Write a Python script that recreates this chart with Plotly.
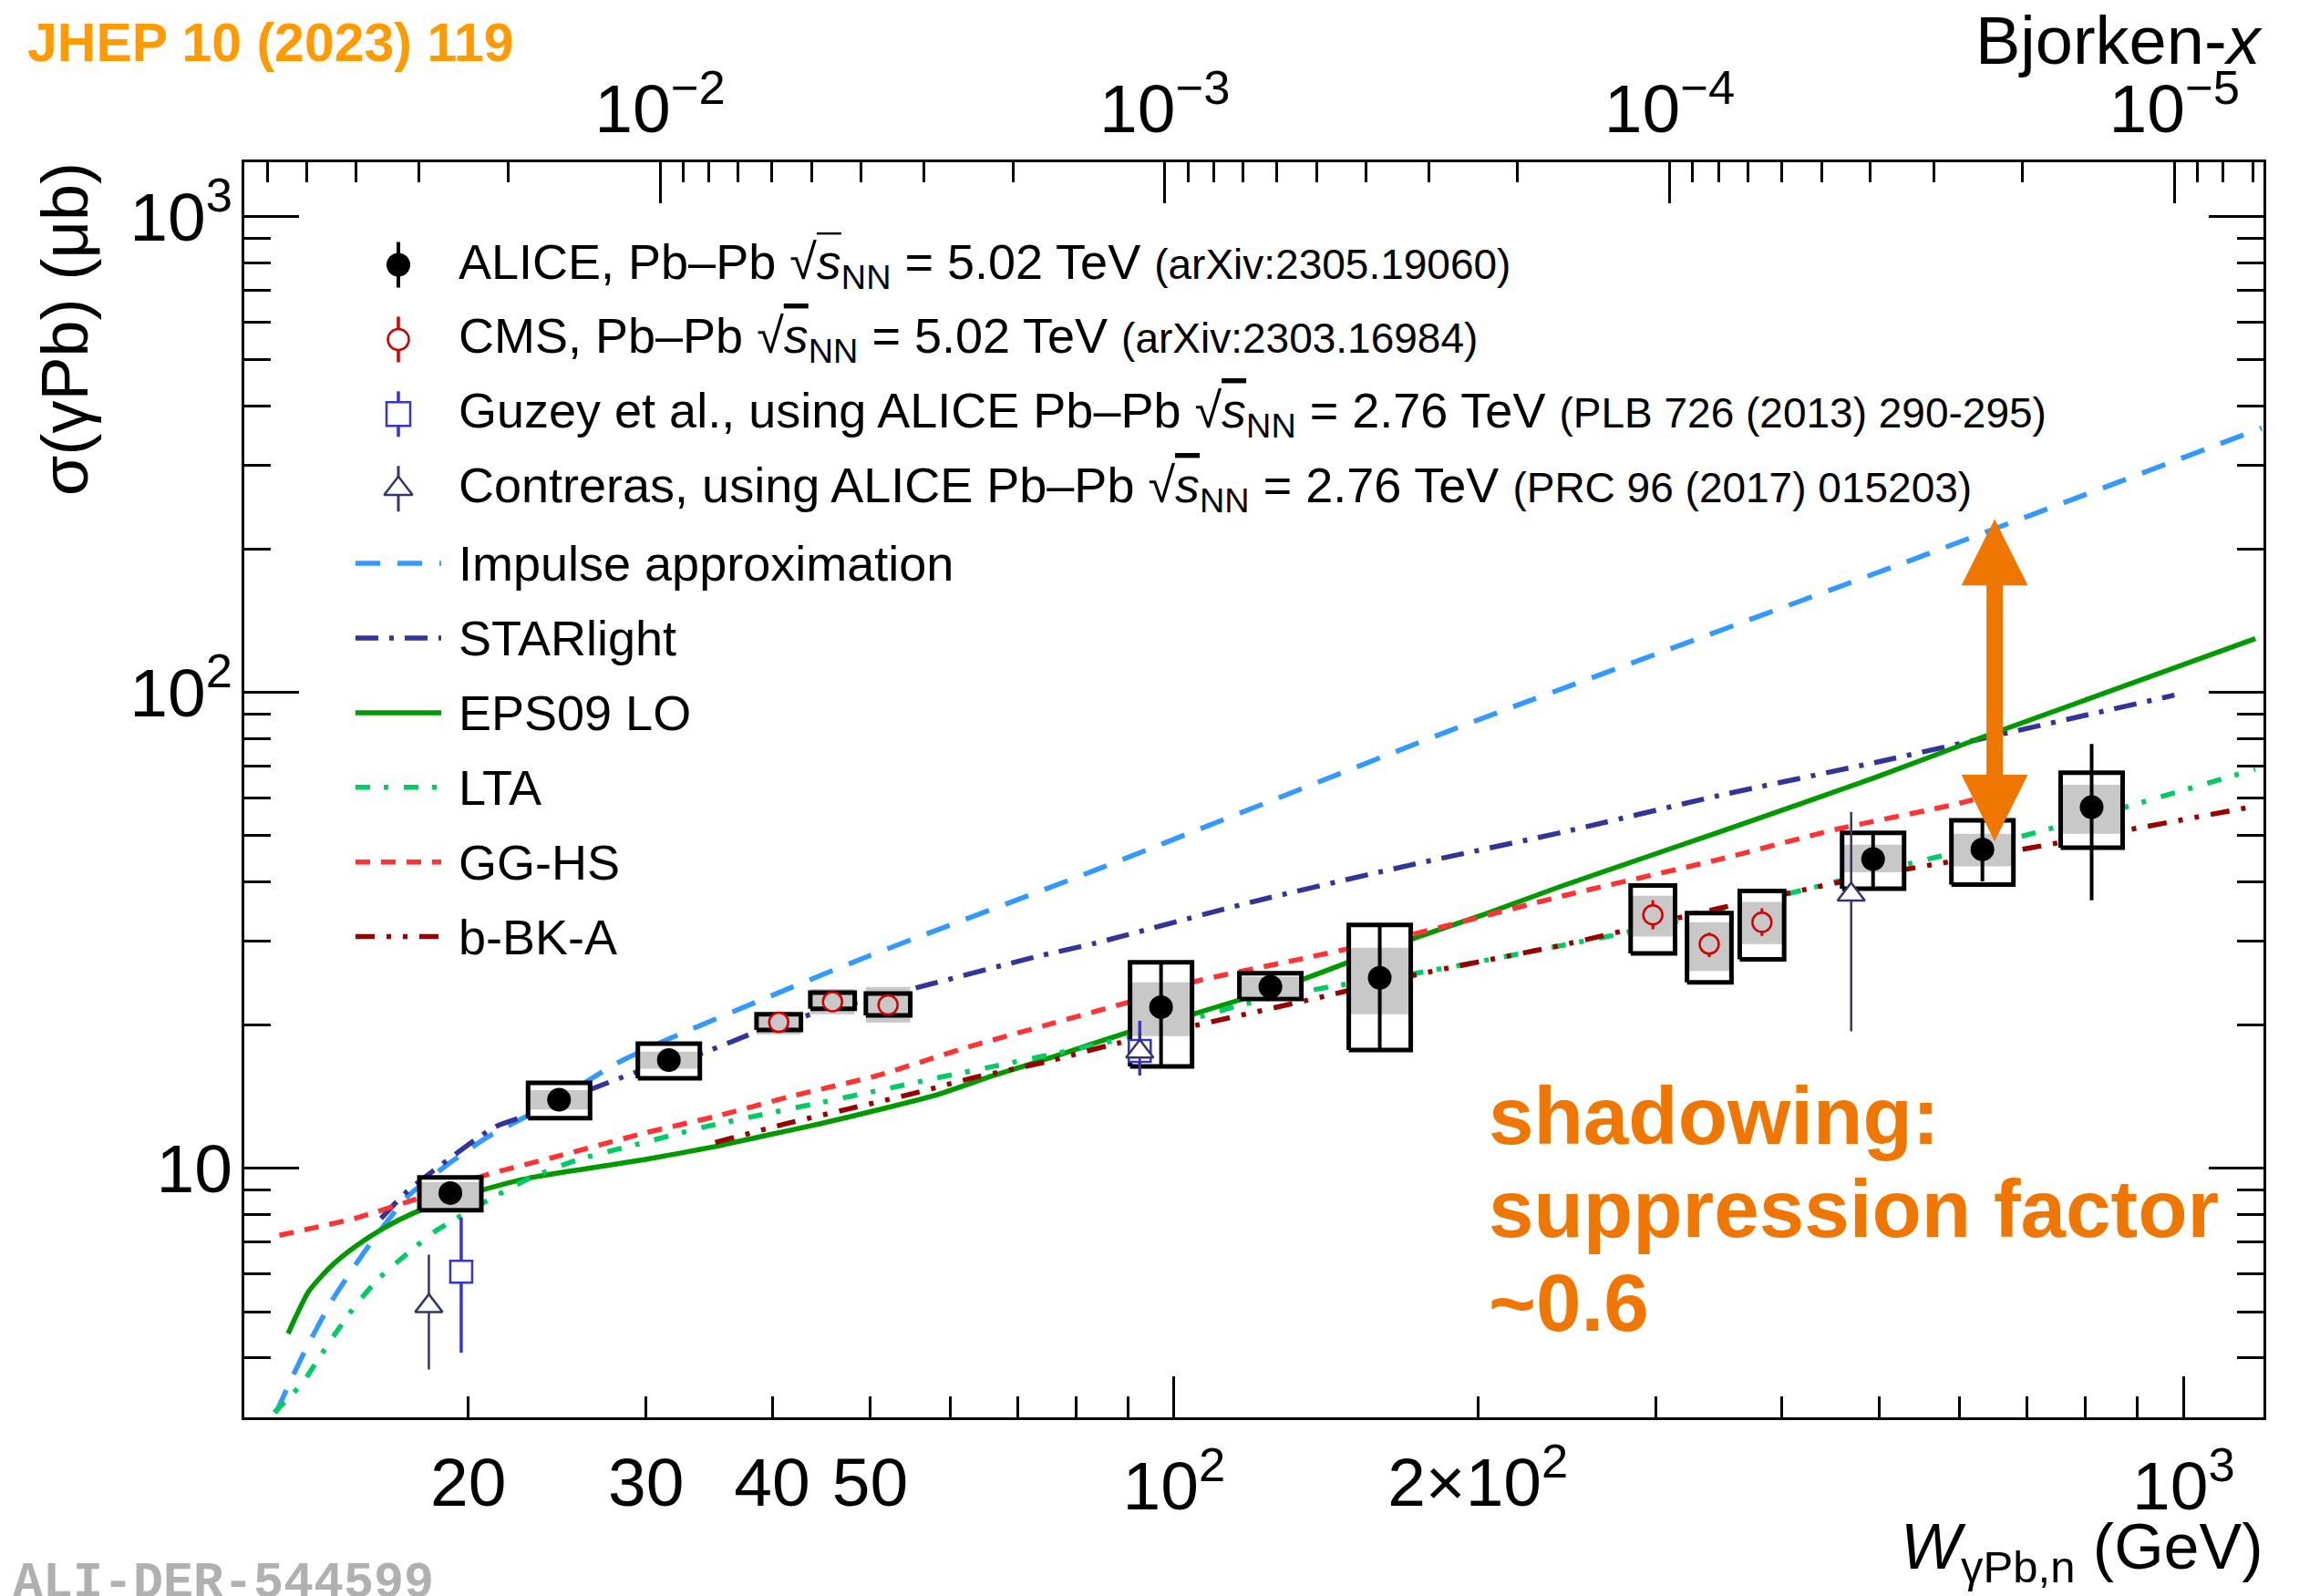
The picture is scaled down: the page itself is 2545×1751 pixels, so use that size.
import math
import plotly.graph_objects as go

# ------------------------------------------------------------------
# Coherent J/psi photoproduction off Pb: sigma(gamma Pb) vs W_gammaPb,n
# ------------------------------------------------------------------

# ALICE, Pb-Pb 5.02 TeV: W (GeV), sigma (ub); stat. bars, open boxes, shaded bands
alice_w = [19.2, 24.6, 31.6, 97.1, 124.6, 159.9, 492.6, 632.1, 810.9]
alice_sigma = [8.88, 13.94, 16.9, 21.83, 24.09, 25.15, 44.67, 46.8, 57.4]
alice_stat_lo = [8.75, 13.75, 16.65, 16.4, 23.0, 17.75, 38.8, 40.1, 36.6]
alice_stat_hi = [9.05, 14.15, 17.15, 27.1, 25.3, 32.5, 50.6, 53.9, 77.9]
alice_box_lo = [8.17, 12.76, 15.47, 16.39, 22.7, 17.74, 38.7, 39.5, 47.2]
alice_box_hi = [9.58, 15.14, 18.3, 27.1, 25.7, 32.5, 50.7, 53.9, 67.8]
alice_band_lo = [8.27, 13.3, 16.2, 18.96, 23.0, 21.08, 41.9, 43.1, 50.5]
alice_band_hi = [9.37, 14.6, 17.6, 24.6, 25.3, 29.08, 47.9, 50.5, 64.0]

# CMS, Pb-Pb 5.02 TeV
cms_w = [40.6, 45.9, 52.1, 298.1, 339.0, 382.3]
cms_sigma = [20.28, 22.41, 22.05, 34.1, 29.6, 32.9]
cms_stat_lo = [20.0, 22.1, 21.7, 31.8, 27.8, 30.8]
cms_stat_hi = [20.6, 22.7, 22.4, 36.6, 31.3, 35.2]
cms_box_lo = [19.55, 21.64, 20.98, 28.3, 24.6, 27.5]
cms_box_hi = [21.08, 23.42, 23.3, 39.3, 34.4, 38.3]
cms_band_lo = [19.12, 21.08, 20.26, 30.7, 26.0, 29.6]
cms_band_hi = [21.27, 23.84, 24.06, 37.4, 32.9, 36.3]

# Guzey et al. (ALICE Pb-Pb 2.76 TeV)
guzey_w = [19.68, 92.5]
guzey_sigma = [6.07, 17.66]
guzey_lo = [4.10, 15.68]
guzey_hi = [7.88, 20.43]

# Contreras (ALICE Pb-Pb 2.76 TeV)
contreras_w = [18.28, 92.5, 468.6]
contreras_sigma = [5.14, 17.6, 37.6]
contreras_lo = [3.78, 16.2, 19.41]
contreras_hi = [6.59, 19.3, 56.1]

# Model curves
ia_w = [12.9, 13.71, 14.65, 15.86, 17.41, 19.11, 20.94, 24.22, 28.04, 31.59,
        39.04, 49.56, 83.47, 189.4, 531.9, 1195]
ia_sigma = [3.07, 4.05, 5.27, 6.78, 8.72, 10.22, 11.67, 13.74, 16.61, 18.71,
            22.61, 27.81, 42.3, 83.8, 188.2, 359.4]

starlight_w = [16.39, 17.41, 21.23, 22.99, 26.24, 29.93, 34.19, 39.04, 44.6, 54.3,
               72.8, 83.5, 119.2, 170.2, 243.0, 346.8, 495.3, 646.6, 979.5]
starlight_sigma = [7.85, 8.96, 12.21, 12.97, 14.57, 16.18, 17.51, 19.55, 21.35, 23.66,
                   27.81, 29.73, 36.26, 43.25, 50.9, 60.75, 71.3, 80.9, 98.7]

eps09_w = [13.26, 13.9, 14.65, 15.45, 16.51, 17.63, 19.23, 20.68, 22.99, 26.24,
           29.96, 35.13, 39.04, 44.57, 50.87, 58.04, 66.3, 75.7, 89.9, 105.2,
           132.6, 164.3, 203.3, 243.0, 346.8, 495.3, 635.7, 1178]
eps09_sigma = [4.50, 5.52, 6.25, 6.85, 7.50, 8.05, 8.62, 9.02, 9.55, 10.0,
               10.45, 11.12, 11.68, 12.41, 13.27, 14.25, 15.68, 17.13, 19.29, 21.2,
               24.74, 29.34, 34.23, 39.31, 50.9, 66.3, 80.9, 129.8]

lta_w = [12.85, 13.71, 14.56, 15.45, 16.29, 17.63, 18.6, 20.68, 22.99, 25.56,
         29.96, 34.19, 39.04, 44.57, 50.87, 58.04, 66.3, 80.9, 91.1, 119.2,
         142.3, 176.3, 290.1, 386.2, 495.3, 707.1, 1178]
lta_sigma = [3.07, 3.55, 4.31, 5.14, 5.86, 6.78, 7.41, 8.46, 9.53, 10.4,
             11.36, 12.21, 12.97, 13.74, 14.57, 15.47, 16.39, 17.9, 18.98, 22.32,
             24.06, 25.85, 31.77, 36.79, 42.0, 50.5, 69.0]

gghs_w = [13.0, 15.45, 17.63, 20.68, 24.24, 29.96, 35.13, 41.72, 50.87, 62.0,
          75.7, 89.9, 105.2, 132.6, 170.2, 243.0, 346.8, 453.2, 591.4, 646.0]
gghs_sigma = [7.24, 7.86, 8.58, 9.65, 10.54, 11.88, 12.86, 14.17, 15.68, 17.9,
              20.16, 22.32, 24.74, 27.46, 30.84, 37.4, 44.6, 51.6, 58.1, 61.0]

bbka_w = [35.13, 41.16, 47.6, 55.08, 63.72, 74.7, 86.4, 105.2, 135.0, 176.3,
          243.0, 346.8, 495.3, 707.1, 1178]
bbka_sigma = [11.34, 12.4, 13.34, 14.36, 15.56, 16.75, 18.16, 19.99, 22.52, 25.7,
              29.51, 35.2, 41.4, 47.2, 57.7]

# Axis ticks and labels
w_major_ticks = [100, 1000]
w_major_labels = ["10<sup>2</sup>", "10<sup>3</sup>"]
w_labelled_minor = [20, 30, 40, 50, 200]
w_labelled_minor_text = ["20", "30", "40", "50", "2×10<sup>2</sup>"]
w_minor_ticks = [20, 30, 40, 50, 60, 70, 80, 90, 200, 300, 400, 500, 600, 700, 800, 900]
sigma_major_ticks = [10, 100, 1000]
sigma_major_labels = ["10", "10<sup>2</sup>", "10<sup>3</sup>"]
sigma_minor_ticks = [4, 5, 6, 7, 8, 9, 20, 30, 40, 50, 60, 70, 80, 90,
                     200, 300, 400, 500, 600, 700, 800, 900]
xb_major_ticks = [1e-2, 1e-3, 1e-4, 1e-5]
xb_major_labels = ["10<sup>−2</sup>", "10<sup>−3</sup>", "10<sup>−4</sup>", "10<sup>−5</sup>"]
xb_minor_ticks = [m * 10.0 ** e for e in (-2, -3, -4, -5, -6) for m in range(2, 10)]

# ------------------------------------------------------------------
# Geometry and style
# ------------------------------------------------------------------
PAGE_W, PAGE_H = 2545, 1751
FRAME_L, FRAME_R, FRAME_T, FRAME_B = 268, 2483, 178, 1555
W_MIN, W_MAX = 12.0, 1200.0
S_MIN, S_MAX = 3.0, 1300.0
MJPSI2 = 3.0969 ** 2          # x = M_J/psi^2 / W^2

FONT = "Liberation Sans, Arial, Helvetica, sans-serif"
TICK_FONT = 75
CURVE_W = 5.5

C_ALICE = "black"
C_CMS = "#d40000"
C_GUZEY = "#3535d5"
C_CONTRERAS = "#35356b"
C_IA = "#3399ff"
C_STARLIGHT = "#333399"
C_EPS09 = "#009900"
C_LTA = "#00cc66"
C_GGHS = "#ff3333"
C_BBKA = "#990000"
C_BAND = "#c8c8c8"
C_ORANGE = "#ef7600"
C_JHEP = "#ff9a00"

ALICE_BOX_HALF = 0.0307   # half width of the boxes in decades of W
CMS_BOX_HALF = 0.022

lg = math.log10


def paper_x(px):
    return (px - FRAME_L) / (FRAME_R - FRAME_L)


def paper_y(py):
    return (FRAME_B - py) / (FRAME_B - FRAME_T)


def box_outline(ws, lo, hi, half):
    f = 10 ** half
    xs, ys = [], []
    for w, l, h in zip(ws, lo, hi):
        xs += [w / f, w * f, w * f, w / f, w / f, None]
        ys += [l, l, h, h, l, None]
    return xs, ys


fig = go.Figure()

# Model curves
DASH_IA = "27px,19px"
DASH_STARLIGHT = "25px,12px,5px,12px"
DASH_LTA = "16px,15px,5px,17px"
DASH_GGHS = "16px,12px"
DASH_BBKA = "21px,13px,5px,13px,5px,13px"

curves = [
    (ia_w, ia_sigma, C_IA, DASH_IA),
    (starlight_w, starlight_sigma, C_STARLIGHT, DASH_STARLIGHT),
    (eps09_w, eps09_sigma, C_EPS09, "solid"),
    (lta_w, lta_sigma, C_LTA, DASH_LTA),
    (gghs_w, gghs_sigma, C_GGHS, DASH_GGHS),
    (bbka_w, bbka_sigma, C_BBKA, DASH_BBKA),
]
for w, s, color, dash in curves:
    fig.add_trace(go.Scatter(
        x=w, y=s, mode="lines",
        line=dict(color=color, dash=dash, width=CURVE_W, shape="spline", smoothing=0.6),
        hoverinfo="skip", showlegend=False))

# Uncertainty boxes: white body, grey band, black frame
for ws, blo, bhi, glo, ghi, half in [
    (alice_w, alice_box_lo, alice_box_hi, alice_band_lo, alice_band_hi, ALICE_BOX_HALF),
    (cms_w, cms_box_lo, cms_box_hi, cms_band_lo, cms_band_hi, CMS_BOX_HALF),
]:
    bx, by = box_outline(ws, blo, bhi, half)
    gx, gy = box_outline(ws, glo, ghi, half)
    fig.add_trace(go.Scatter(x=bx, y=by, mode="lines", fill="toself", fillcolor="white",
                             line=dict(width=0, color="white"), hoverinfo="skip", showlegend=False))
    fig.add_trace(go.Scatter(x=gx, y=gy, mode="lines", fill="toself", fillcolor=C_BAND,
                             line=dict(width=0, color=C_BAND), hoverinfo="skip", showlegend=False))
    fig.add_trace(go.Scatter(x=bx, y=by, mode="lines",
                             line=dict(width=5, color="black"), hoverinfo="skip", showlegend=False))


def err(center, lo, hi):
    return dict(type="data", symmetric=False,
                array=[h - c for c, h in zip(center, hi)],
                arrayminus=[c - l for c, l in zip(center, lo)])


fig.add_trace(go.Scatter(
    x=cms_w, y=cms_sigma, mode="markers",
    marker=dict(symbol="circle", size=21, color=C_BAND, line=dict(color=C_CMS, width=2.5)),
    error_y=dict(**err(cms_sigma, cms_stat_lo, cms_stat_hi), color=C_CMS, thickness=3, width=0),
    hoverinfo="skip", showlegend=False))

fig.add_trace(go.Scatter(
    x=alice_w, y=alice_sigma, mode="markers",
    marker=dict(symbol="circle", size=26, color=C_ALICE),
    error_y=dict(**err(alice_sigma, alice_stat_lo, alice_stat_hi), color=C_ALICE, thickness=4, width=0),
    hoverinfo="skip", showlegend=False))

fig.add_trace(go.Scatter(
    x=guzey_w, y=guzey_sigma, mode="markers",
    marker=dict(symbol="square", size=24, color="white", line=dict(color=C_GUZEY, width=2.5)),
    error_y=dict(**err(guzey_sigma, guzey_lo, guzey_hi), color=C_GUZEY, thickness=3.5, width=0),
    hoverinfo="skip", showlegend=False))

fig.add_trace(go.Scatter(
    x=contreras_w, y=contreras_sigma, mode="markers",
    marker=dict(symbol="triangle-up", size=26, color="white", line=dict(color=C_CONTRERAS, width=2.5)),
    error_y=dict(**err(contreras_sigma, contreras_lo, contreras_hi), color=C_CONTRERAS, thickness=2.5, width=0),
    hoverinfo="skip", showlegend=False))

# Placeholders so the Bjorken-x axis and the extra W label axis get drawn
fig.add_trace(go.Scatter(x=xb_major_ticks, y=[None] * len(xb_major_ticks), xaxis="x2", yaxis="y",
                         mode="markers", hoverinfo="skip", showlegend=False))
fig.add_trace(go.Scatter(x=w_labelled_minor, y=[None] * len(w_labelled_minor), xaxis="x4", yaxis="y",
                         mode="markers", hoverinfo="skip", showlegend=False))

# ------------------------------------------------------------------
# Legend, drawn on a pixel-scaled overlay
# ------------------------------------------------------------------
LEG_ROW0, LEG_STEP = 290.5, 81.9
LEG_MARK_X = 437
LEG_LINE_X = [390, 484]
LEG_TEXT_X = 503
LEG_BAR = 25
LEG_FONT = 54
REF_FONT = 46

SQRT_S = "√<span style='text-decoration:overline'><i>s</i></span><sub>NN</sub>"

legend_markers = [
    (dict(symbol="circle", size=26, color=C_ALICE), C_ALICE, 4,
     f"ALICE, Pb–Pb {SQRT_S} = 5.02 TeV <span style='font-size:{REF_FONT}px'>(arXiv:2305.19060)</span>"),
    (dict(symbol="circle", size=23, color="white", line=dict(color=C_CMS, width=2.5)), C_CMS, 3.5,
     f"CMS, Pb–Pb {SQRT_S} = 5.02 TeV <span style='font-size:{REF_FONT}px'>(arXiv:2303.16984)</span>"),
    (dict(symbol="square", size=26, color="white", line=dict(color=C_GUZEY, width=2.5)), C_GUZEY, 3.5,
     f"Guzey et al., using ALICE Pb–Pb {SQRT_S} = 2.76 TeV <span style='font-size:{REF_FONT}px'>(PLB 726 (2013) 290-295)</span>"),
    (dict(symbol="triangle-up", size=27, color="white", line=dict(color=C_CONTRERAS, width=2.5)), C_CONTRERAS, 3,
     f"Contreras, using ALICE Pb–Pb {SQRT_S} = 2.76 TeV <span style='font-size:{REF_FONT}px'>(PRC 96 (2017) 015203)</span>"),
]
legend_lines = [
    (C_IA, DASH_IA, "Impulse approximation"),
    (C_STARLIGHT, DASH_STARLIGHT, "STARlight"),
    (C_EPS09, "solid", "EPS09 LO"),
    (C_LTA, DASH_LTA, "LTA"),
    (C_GGHS, DASH_GGHS, "GG-HS"),
    (C_BBKA, DASH_BBKA, "b-BK-A"),
]

annotations = []


def text(s, px, py, size, xanchor="left", yanchor="middle", color="black", angle=0, family=FONT):
    annotations.append(dict(
        text=s, x=paper_x(px), y=paper_y(py), xref="paper", yref="paper",
        xanchor=xanchor, yanchor=yanchor, showarrow=False, textangle=angle,
        borderpad=0, borderwidth=0, font=dict(size=size, color=color, family=family)))


row = 0
for marker, color, thick, label in legend_markers:
    y = LEG_ROW0 + LEG_STEP * row
    fig.add_trace(go.Scatter(
        x=[LEG_MARK_X], y=[y], xaxis="x3", yaxis="y3", mode="markers", marker=marker,
        error_y=dict(type="constant", value=LEG_BAR, color=color, thickness=thick, width=0),
        hoverinfo="skip", showlegend=False))
    text(label, LEG_TEXT_X, y, LEG_FONT)
    row += 1
for color, dash, label in legend_lines:
    y = LEG_ROW0 + LEG_STEP * row
    fig.add_trace(go.Scatter(
        x=LEG_LINE_X, y=[y, y], xaxis="x3", yaxis="y3", mode="lines",
        line=dict(color=color, dash=dash, width=CURVE_W), hoverinfo="skip", showlegend=False))
    text(label, LEG_TEXT_X, y, LEG_FONT)
    row += 1

# Titles and captions
text("σ(γPb) (μb)", 71, FRAME_T, 72, xanchor="center", yanchor="top", angle=-90)
text("<i>W</i><sub>γPb,n</sub> (GeV)", FRAME_R, 1702, 70, xanchor="right")
text("Bjorken-<i>x</i>", FRAME_R, 44, 74, xanchor="right")
text("<b>JHEP 10 (2023) 119</b>", 30, 47, 59, color=C_JHEP)
text("<b>ALI-DER-544599</b>", 14, 1737, 55, color="#b0b0b0",
     family="Liberation Mono, Courier New, monospace")
text("<b>shadowing:</b>", 1633, 1224, 89, color=C_ORANGE)
text("<b>suppression factor</b>", 1633, 1326, 89, color=C_ORANGE)
text("<b>~0.6</b>", 1633, 1429, 89, color=C_ORANGE)

# Double-headed arrow marking the suppression
ARROW_W, ARROW_TOP, ARROW_BOTTOM = 650.0, 233.0, 48.7
annotations.append(dict(
    x=lg(ARROW_W), y=lg(ARROW_BOTTOM), ax=lg(ARROW_W), ay=lg(ARROW_TOP),
    xref="x", yref="y", axref="x", ayref="y", text="", showarrow=True,
    arrowhead=2, startarrowhead=2, arrowside="end+start",
    arrowsize=0.81, startarrowsize=0.81, arrowwidth=18, arrowcolor=C_ORANGE,
    standoff=0, startstandoff=0))

# ------------------------------------------------------------------
# Axes
# ------------------------------------------------------------------
tick_font = dict(size=TICK_FONT, family=FONT, color="black")
tick_common = dict(ticks="inside", tickwidth=3, tickcolor="black", showgrid=False,
                   zeroline=False, tickfont=tick_font, fixedrange=True)

fig.update_layout(
    width=PAGE_W, height=PAGE_H, autosize=False,
    margin=dict(l=FRAME_L, r=PAGE_W - FRAME_R, t=FRAME_T, b=PAGE_H - FRAME_B, pad=0),
    paper_bgcolor="white", plot_bgcolor="white", showlegend=False,
    font=dict(family=FONT, color="black"),
    xaxis=dict(type="log", range=[lg(W_MIN), lg(W_MAX)],
               showline=True, linewidth=3, linecolor="black", mirror=False,
               tickmode="array", tickvals=w_major_ticks, ticktext=w_major_labels, ticklen=45,
               ticklabelstandoff=8,
               minor=dict(tickmode="array", tickvals=w_minor_ticks, ticks="inside", ticklen=23,
                          tickwidth=3, tickcolor="black", showgrid=False),
               **tick_common),
    xaxis4=dict(type="log", range=[lg(W_MIN), lg(W_MAX)], overlaying="x", anchor="y", side="bottom",
                showline=False, tickmode="array", tickvals=w_labelled_minor,
                ticktext=w_labelled_minor_text, ticks="inside", ticklen=45, tickwidth=1,
                tickcolor="rgba(0,0,0,0)", showgrid=False, zeroline=False,
                ticklabelstandoff=21, tickfont=tick_font, fixedrange=True),
    xaxis2=dict(type="log", range=[lg(MJPSI2 / W_MIN ** 2), lg(MJPSI2 / W_MAX ** 2)],
                overlaying="x", anchor="y", side="top",
                showline=True, linewidth=3, linecolor="black",
                tickmode="array", tickvals=xb_major_ticks, ticktext=xb_major_labels, ticklen=45,
                ticklabelstandoff=0,
                minor=dict(tickmode="array", tickvals=xb_minor_ticks, ticks="inside", ticklen=22,
                           tickwidth=3, tickcolor="black", showgrid=False),
                **tick_common),
    yaxis=dict(type="log", range=[lg(S_MIN), lg(S_MAX)],
               showline=True, linewidth=3, linecolor="black", mirror="ticks",
               tickmode="array", tickvals=sigma_major_ticks, ticktext=sigma_major_labels, ticklen=60,
               ticklabelstandoff=-5,
               minor=dict(tickmode="array", tickvals=sigma_minor_ticks, ticks="inside", ticklen=29,
                          tickwidth=3, tickcolor="black", showgrid=False),
               **tick_common),
    xaxis3=dict(overlaying="x", range=[FRAME_L, FRAME_R], visible=False, fixedrange=True),
    yaxis3=dict(overlaying="y", anchor="x3", range=[FRAME_B, FRAME_T], visible=False, fixedrange=True),
    annotations=annotations,
)

fig.write_html("out.html", config={"displayModeBar": False})
